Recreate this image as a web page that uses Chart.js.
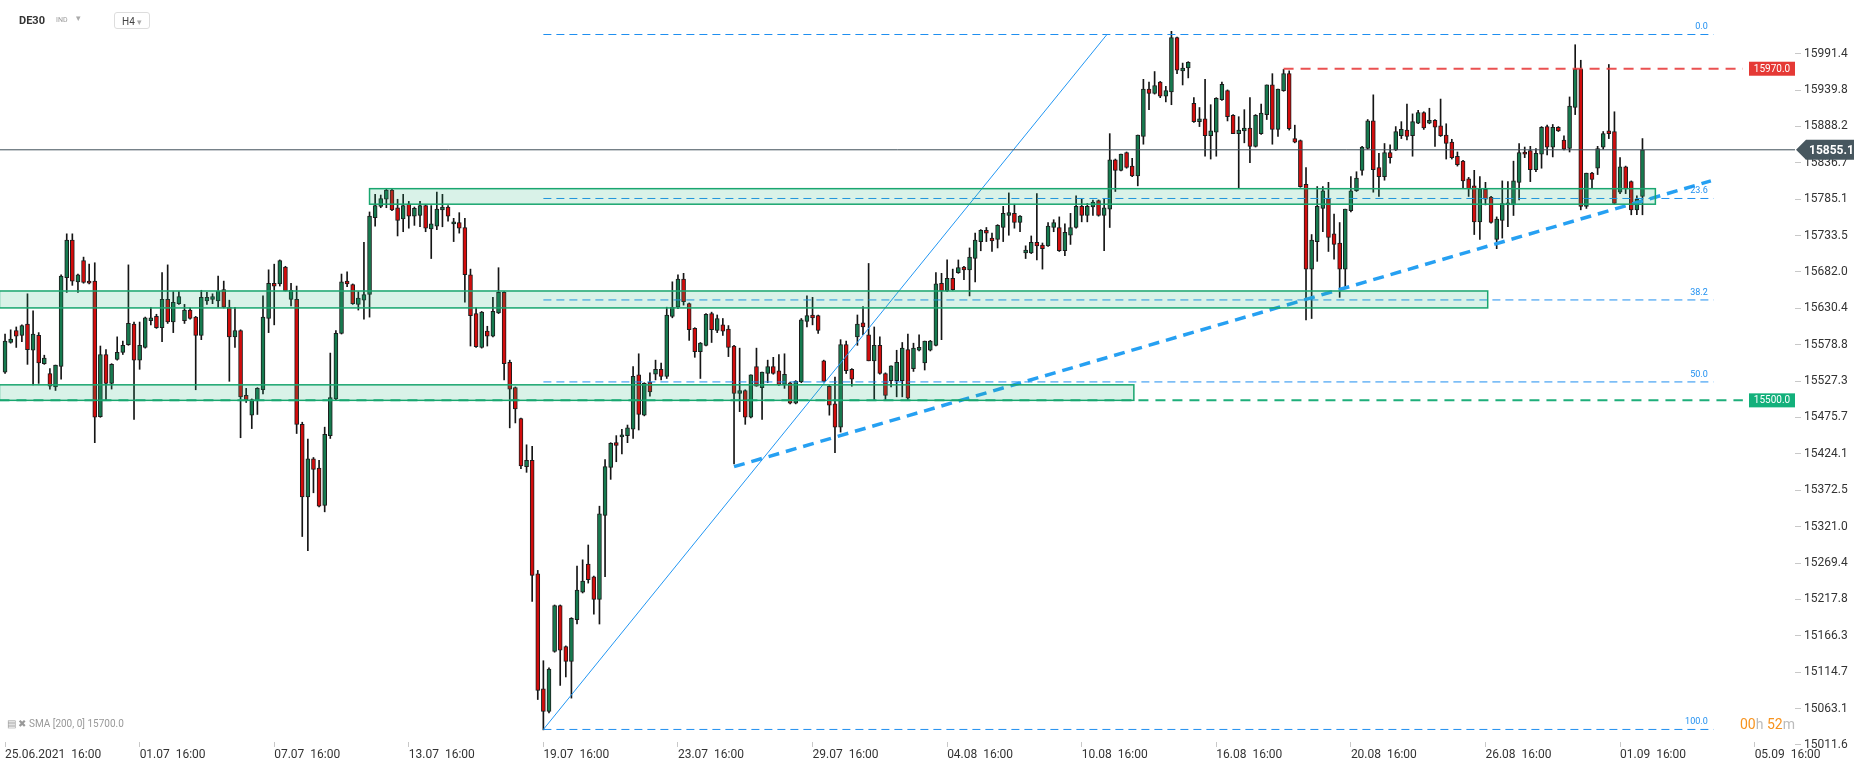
<!DOCTYPE html>
<html>
<head>
<meta charset="utf-8">
<script src="https://cdn.jsdelivr.net/npm/chart.js@4.4.0/dist/chart.umd.min.js"></script>
<style>
  body { margin: 0; background: #fff; font-family: Roboto, sans-serif; }
  #wrap { position: relative; width: 1866px; height: 770px; }
  #priceChart { position: absolute; left: 0; top: 0; }
  .hdr { position: absolute; white-space: nowrap; }
</style>
</head>
<body>
<div id="wrap">
  <canvas id="priceChart" width="1866" height="770"></canvas>
  <div class="hdr" style="left:19px;top:14px;font-size:11px;font-weight:bold;color:#333">DE30</div>
  <div class="hdr" style="left:56px;top:16px;font-size:7px;color:#999">IND</div>
  <div class="hdr" style="left:76px;top:13px;font-size:9px;color:#aaa">▾</div>
  <div class="hdr" style="left:114px;top:12px;width:36px;height:17px;border:1px solid #ddd;border-radius:3px;font-size:10px;color:#444;line-height:17px;padding-left:7px;box-sizing:border-box">H4 <span style="color:#aaa;font-size:9px">▾</span></div>
  <div class="hdr" style="left:7px;top:718px;font-size:10px;color:#999">▤ ✖ <span style="font-size:10px">SMA [200, 0] 15700.0</span></div>
  <div class="hdr" style="left:1740px;top:716px;font-size:14px;color:#bbb"><span style="color:#f7931e">00</span>h <span style="color:#f7931e">52</span>m</div>
</div>
<script>
// DE30 H4, 25.06.2021 16:00 -> 02.09.2021 08:00 (index 0 = 25.06 16:00)
const openP = [
  15540,15582,15599,15592,15608,15571,15592,15552,15538,15519,
  15548,15674,15727,15668,15698,15669,15669,15477,15565,15524,
  15558,15568,15579,15608,15557,15575,15613,15619,15603,15643,
  15611,15637,15613,15628,15618,15592,15641,15643,15641,15657,
  15632,15590,15599,15507,15479,15500,15515,15616,15666,15665,
  15689,15643,15643,15466,15363,15417,15404,15351,15450,15502,
  15595,15669,15664,15636,15642,15650,15759,15775,15785,15798,
  15773,15757,15778,15761,15762,15776,15743,15747,15770,15774,
  15750,15752,15745,15678,15623,15575,15598,15591,15624,15653,
  15554,15518,15474,15406,15415,15254,15091,15059,15144,15209,
  15151,15130,15189,15228,15268,15250,15218,15337,15405,15440,
  15448,15450,15459,15536,15479,15526,15537,15544,15534,15619,
  15632,15672,15637,15602,15569,15578,15623,15599,15607,15601,
  15577,15510,15514,15476,15548,15518,15538,15548,15542,15522,
  15525,15496,15526,15612,15621,15620,15556,15520,15495,15462,
  15579,15544,15590,15610,15593,15556,15578,15538,15528,15528,
  15528,15572,15545,15571,15553,15571,15578,15666,15655,15673,
  15681,15689,15685,15701,15725,15741,15730,15728,15745,15762,
  15765,15752,15709,15709,15724,15720,15719,15745,15745,15712,
  15734,15745,15775,15762,15774,15783,15762,15771,15841,15826,
  15851,15832,15818,15874,15941,15935,15951,15931,15937,16014,
  15967,15971,15921,15895,15899,15875,15880,15926,15939,15904,
  15878,15882,15886,15860,15878,15905,15947,15884,15939,15963,
  15871,15868,15806,15686,15725,15772,15786,15736,15723,15686,
  15769,15797,15826,15857,15896,15830,15817,15851,15855,15875,
  15883,15875,15893,15908,15893,15897,15889,15876,15866,15846,
  15839,15814,15804,15753,15799,15788,15728,15755,15777,15777,
  15809,15852,15854,15827,15849,15888,15859,15887,15869,15857,
  15915,15969,15775,15822,15829,15859,15882,15881,15795,15831,
  15810,15770,15789
];
const highP = [
  15594,15600,15604,15607,15651,15627,15596,15564,15545,15550,
  15678,15736,15736,15679,15703,15693,15695,15577,15572,15552,
  15590,15584,15692,15611,15611,15618,15632,15622,15681,15692,
  15654,15654,15636,15631,15619,15656,15653,15651,15676,15669,
  15642,15632,15600,15517,15502,15518,15648,15685,15693,15699,
  15690,15666,15662,15469,15445,15419,15415,15462,15567,15599,
  15679,15682,15665,15654,15724,15767,15792,15791,15799,15800,
  15785,15792,15782,15774,15782,15777,15776,15795,15792,15776,
  15758,15766,15758,15686,15631,15626,15605,15646,15688,15654,
  15557,15519,15475,15437,15435,15259,15131,15121,15210,15210,
  15152,15192,15265,15274,15295,15251,15350,15416,15440,15450,
  15459,15465,15548,15566,15525,15539,15557,15553,15632,15668,
  15678,15680,15638,15603,15582,15623,15625,15621,15616,15606,
  15578,15574,15515,15536,15574,15540,15557,15561,15565,15566,
  15526,15528,15616,15648,15646,15621,15557,15521,15533,15586,
  15584,15545,15621,15633,15694,15604,15590,15539,15549,15571,
  15582,15594,15581,15593,15584,15585,15681,15680,15699,15686,
  15699,15690,15716,15737,15742,15745,15737,15749,15775,15794,
  15778,15762,15719,15733,15793,15723,15752,15756,15760,15750,
  15765,15790,15785,15779,15784,15784,15786,15878,15842,15849,
  15852,15843,15876,15955,15951,15966,15952,15945,16023,16015,
  15978,15980,15929,15915,15955,15919,15929,15951,15940,15905,
  15902,15912,15929,15905,15920,15947,15963,15941,15969,15967,
  15890,15869,15830,15735,15803,15803,15809,15764,15752,15771,
  15817,15824,15860,15898,15933,15850,15864,15862,15888,15895,
  15920,15906,15911,15909,15914,15898,15927,15892,15870,15852,
  15840,15816,15826,15817,15809,15789,15760,15811,15810,15839,
  15864,15859,15860,15857,15888,15890,15891,15888,15875,15930,
  16004,15982,15822,15823,15860,15881,15976,15909,15844,15832,
  15811,15790,15871
];
const lowP = [
  15538,15581,15575,15583,15551,15522,15524,15551,15516,15514,
  15530,15653,15663,15653,15666,15665,15440,15476,15500,15516,
  15557,15565,15578,15473,15544,15574,15607,15602,15583,15609,
  15596,15636,15609,15615,15515,15586,15636,15637,15632,15631,
  15527,15575,15447,15497,15460,15480,15509,15596,15607,15662,
  15655,15634,15453,15307,15287,15369,15349,15342,15446,15501,
  15594,15661,15636,15628,15615,15618,15747,15773,15773,15769,
  15733,15739,15744,15748,15746,15739,15701,15742,15746,15754,
  15725,15737,15639,15577,15575,15574,15577,15590,15623,15529,
  15461,15468,15403,15398,15215,15076,15033,15057,15143,15096,
  15108,15078,15183,15227,15241,15197,15183,15250,15388,15413,
  15424,15440,15446,15458,15478,15506,15529,15529,15531,15617,
  15630,15635,15585,15561,15531,15577,15582,15596,15592,15562,
  15410,15484,15466,15475,15520,15473,15525,15537,15521,15517,
  15495,15495,15525,15604,15607,15595,15526,15479,15426,15455,
  15538,15520,15578,15593,15556,15501,15537,15501,15519,15505,
  15505,15500,15541,15570,15543,15570,15577,15586,15654,15656,
  15680,15671,15648,15668,15712,15725,15711,15716,15725,15734,
  15744,15739,15701,15708,15699,15686,15718,15739,15711,15705,
  15721,15744,15753,15753,15762,15761,15712,15745,15796,15825,
  15829,15817,15804,15863,15912,15934,15929,15923,15919,15963,
  15947,15957,15894,15888,15846,15842,15846,15925,15896,15878,
  15800,15865,15837,15859,15877,15898,15863,15874,15938,15883,
  15865,15802,15614,15616,15697,15739,15711,15700,15646,15659,
  15767,15796,15819,15856,15795,15789,15812,15836,15854,15871,
  15869,15846,15892,15884,15892,15860,15874,15842,15842,15832,
  15801,15789,15735,15728,15777,15751,15715,15730,15746,15762,
  15784,15844,15810,15824,15829,15848,15845,15881,15855,15852,
  15905,15770,15772,15801,15820,15856,15871,15778,15793,15793,
  15763,15763,15763
];
const closeP = [
  15584,15587,15591,15606,15572,15594,15553,15560,15520,15550,
  15676,15727,15669,15678,15667,15666,15476,15565,15524,15551,
  15568,15578,15609,15557,15578,15617,15617,15603,15643,15611,
  15639,15647,15628,15616,15592,15646,15646,15647,15655,15632,
  15590,15599,15505,15501,15501,15517,15618,15666,15662,15698,
  15655,15656,15466,15363,15417,15402,15350,15452,15504,15595,
  15668,15665,15637,15645,15650,15761,15776,15786,15798,15770,
  15755,15776,15761,15772,15776,15744,15750,15771,15774,15761,
  15753,15744,15678,15620,15576,15625,15591,15626,15653,15552,
  15516,15488,15407,15415,15252,15089,15059,15119,15209,15146,
  15130,15191,15231,15244,15246,15218,15339,15406,15439,15436,
  15451,15461,15534,15480,15524,15512,15544,15534,15621,15632,
  15672,15640,15600,15569,15581,15622,15600,15616,15598,15575,
  15510,15514,15476,15536,15520,15540,15548,15538,15522,15537,
  15496,15527,15614,15620,15617,15599,15527,15493,15462,15579,
  15542,15530,15608,15604,15556,15578,15538,15507,15549,15554,
  15574,15503,15574,15575,15584,15584,15665,15655,15673,15657,
  15688,15685,15703,15727,15741,15737,15726,15748,15765,15766,
  15752,15761,15713,15724,15719,15715,15747,15752,15712,15738,
  15745,15775,15762,15775,15781,15762,15773,15841,15826,15849,
  15830,15818,15876,15941,15935,15946,15931,15939,16014,15968,
  15971,15979,15895,15899,15875,15882,15928,15948,15902,15878,
  15883,15886,15860,15904,15907,15947,15884,15941,15963,15885,
  15866,15803,15686,15727,15775,15797,15731,15721,15686,15771,
  15797,15815,15859,15896,15827,15817,15851,15844,15881,15884,
  15874,15895,15908,15886,15897,15887,15875,15864,15844,15834,
  15811,15800,15753,15799,15785,15752,15757,15779,15779,15811,
  15851,15849,15827,15850,15887,15859,15887,15882,15856,15917,
  15969,15775,15822,15813,15857,15878,15878,15779,15831,15800,
  15770,15785,15855.1
];

// x axis labels (candle index of each label)
const dateTicks = [0, 24, 48, 72, 96, 120, 144, 168, 192, 216, 240, 264, 288, 312];
const dateLabels = ['25.06.2021  16:00', '01.07  16:00', '07.07  16:00', '13.07  16:00', '19.07  16:00',
  '23.07  16:00', '29.07  16:00', '04.08  16:00', '10.08  16:00', '16.08  16:00', '20.08  16:00',
  '26.08  16:00', '01.09  16:00', '05.09  16:00'];
const priceTicks = [15011.6, 15063.1, 15114.7, 15166.3, 15217.8, 15269.4, 15321.0, 15372.5, 15424.1,
  15475.7, 15527.3, 15578.8, 15630.4, 15682.0, 15733.5, 15785.1, 15836.7, 15888.2, 15939.8, 15991.4];

// drawings on the chart
const lastPrice = 15855.1;
const resistance = 15970.0;
const support = 15500.0;
const fibLabels = ['0.0', '23.6', '38.2', '50.0', '100.0'];
const fibPrices = [16018.5, 15786.1, 15642.3, 15526.1, 15033.6];
const fibRange = [96, 304.7];
const fibDiagonal = [[96, 15033.6], [196.5, 16018.5]];
const trendLine = [[130, 15406], [304.2, 15811]];
const zoneFrom = [65, -1, -1];
const zoneTo = [294.3, 264.4, 201.3];
const zoneTop = [15800, 15655, 15522];
const zoneBottom = [15778, 15631, 15500];

const GREEN = '#167a4f', RED = '#d30c0c';

function lineSet(points, color, width, dash) {
  return {
    type: 'line', data: points.map(p => ({ x: p[0], y: p[1] })),
    borderColor: color, borderWidth: width, borderDash: dash || [],
    pointRadius: 0, fill: false, tension: 0, order: 0
  };
}

const datasets = [
  {
    type: 'bar', label: 'wick',
    data: highP.map((h, i) => ({ x: i, y: [lowP[i], h] })),
    backgroundColor: '#151515', barThickness: 1, grouped: false, order: 3
  },
  {
    type: 'bar', label: 'body',
    data: openP.map((o, i) => ({ x: i, y: [o, closeP[i]] })),
    backgroundColor: openP.map((o, i) => closeP[i] >= o ? GREEN : RED),
    borderColor: '#1c1c1c', borderWidth: 1, borderSkipped: false,
    barThickness: 4, minBarLength: 2, grouped: false, order: 2
  },
  lineSet([[-1, lastPrice], [320, lastPrice]], '#3f4e59', 1),
  lineSet([[228, resistance], [309.9, resistance]], 'rgba(232,62,62,0.9)', 2, [10, 7]),
  lineSet([[-1, support], [309.9, support]], 'rgba(18,170,115,0.95)', 2, [10, 7]),
  lineSet(fibDiagonal, '#2196f3', 1),
  lineSet(trendLine, '#26a0f2', 3.5, [11, 7])
];
fibPrices.forEach(p => datasets.push(lineSet([[fibRange[0], p], [fibRange[1], p]], '#1f8ff0', 1, [8, 5])));

const drawings = {
  id: 'drawings',
  afterDatasetsDraw(chart) {
    const { ctx, chartArea, scales: { x, y } } = chart;
    ctx.save();
    ctx.beginPath();
    ctx.rect(chartArea.left, chartArea.top, chartArea.right - chartArea.left, chartArea.bottom - chartArea.top);
    ctx.clip();
    zoneTop.forEach((t, k) => {
      const x0 = x.getPixelForValue(zoneFrom[k]), x1 = x.getPixelForValue(zoneTo[k]);
      const y0 = y.getPixelForValue(t), y1 = y.getPixelForValue(zoneBottom[k]);
      ctx.fillStyle = 'rgba(30,180,120,0.17)';
      ctx.fillRect(x0, y0, x1 - x0, y1 - y0);
      ctx.strokeStyle = '#19a66f';
      ctx.lineWidth = 1.5;
      ctx.strokeRect(x0, y0, x1 - x0, y1 - y0);
    });
    ctx.restore();
  },
  afterDraw(chart) {
    const { ctx, chartArea, scales: { x, y } } = chart;
    ctx.save();
    // fib level labels
    ctx.font = '9px Roboto';
    ctx.fillStyle = '#1f8ff0';
    ctx.textAlign = 'right';
    ctx.textBaseline = 'bottom';
    const fx = x.getPixelForValue(fibRange[1]) - 6;
    fibPrices.forEach((p, k) => ctx.fillText(fibLabels[k], fx, y.getPixelForValue(p) - 3));

    // level tags
    const tag = (price, color) => {
      const py = y.getPixelForValue(price);
      ctx.fillStyle = color;
      ctx.fillRect(chartArea.right - 46, py - 7, 46, 14);
      ctx.fillStyle = '#fff';
      ctx.font = '10px Roboto';
      ctx.textAlign = 'center';
      ctx.textBaseline = 'middle';
      ctx.fillText(price.toFixed(1), chartArea.right - 23, py + 0.5);
    };
    tag(resistance, '#e53935');
    tag(support, '#13b07b');

    // last price tag
    const ly = y.getPixelForValue(lastPrice), lx = chartArea.right + 1;
    ctx.fillStyle = '#47575f';
    ctx.beginPath();
    ctx.moveTo(lx, ly);
    ctx.lineTo(lx + 10, ly - 10);
    ctx.lineTo(lx + 58, ly - 10);
    ctx.lineTo(lx + 58, ly + 10);
    ctx.lineTo(lx + 10, ly + 10);
    ctx.closePath();
    ctx.fill();
    ctx.fillStyle = '#fff';
    ctx.font = 'bold 12px Roboto';
    ctx.textAlign = 'left';
    ctx.textBaseline = 'middle';
    ctx.fillText(lastPrice.toFixed(1), lx + 13, ly + 1);
    ctx.restore();
  }
};

const ctx = document.getElementById('priceChart').getContext('2d');
const chart = new Chart(ctx, {
  type: 'bar',
  data: { datasets: datasets },
  plugins: [drawings],
  options: {
    responsive: false,
    animation: false,
    devicePixelRatio: 1,
    layout: { padding: 0 },
    plugins: { legend: { display: false }, tooltip: { enabled: false } },
    scales: {
      x: {
        type: 'linear', min: -0.9, max: 319.2, offset: false,
        grid: { offset: false, drawOnChartArea: false, tickLength: 5, color: '#c8c8c8' },
        border: { display: false },
        afterBuildTicks: s => { s.ticks = dateTicks.map(v => ({ value: v })); },
        afterFit: s => { s.height = 28; s.paddingLeft = 0; s.paddingRight = 0; },
        ticks: {
          autoSkip: false, maxRotation: 0, minRotation: 0, align: 'start', padding: 1,
          color: '#333', font: { family: 'Roboto', size: 12 },
          callback: (v, i) => dateLabels[i]
        }
      },
      y: {
        type: 'linear', position: 'right', min: 15015.8, max: 16067.4,
        grid: { drawOnChartArea: false, tickLength: 6, color: '#c8c8c8' },
        border: { display: false },
        afterBuildTicks: s => { s.ticks = priceTicks.map(v => ({ value: v })); },
        afterFit: s => { s.width = 71; s.paddingTop = 0; s.paddingBottom = 0; },
        ticks: {
          padding: 3, color: '#333', font: { family: 'Roboto', size: 12 },
          callback: v => Number(v).toFixed(1)
        }
      }
    }
  }
});
</script>
</body>
</html>
